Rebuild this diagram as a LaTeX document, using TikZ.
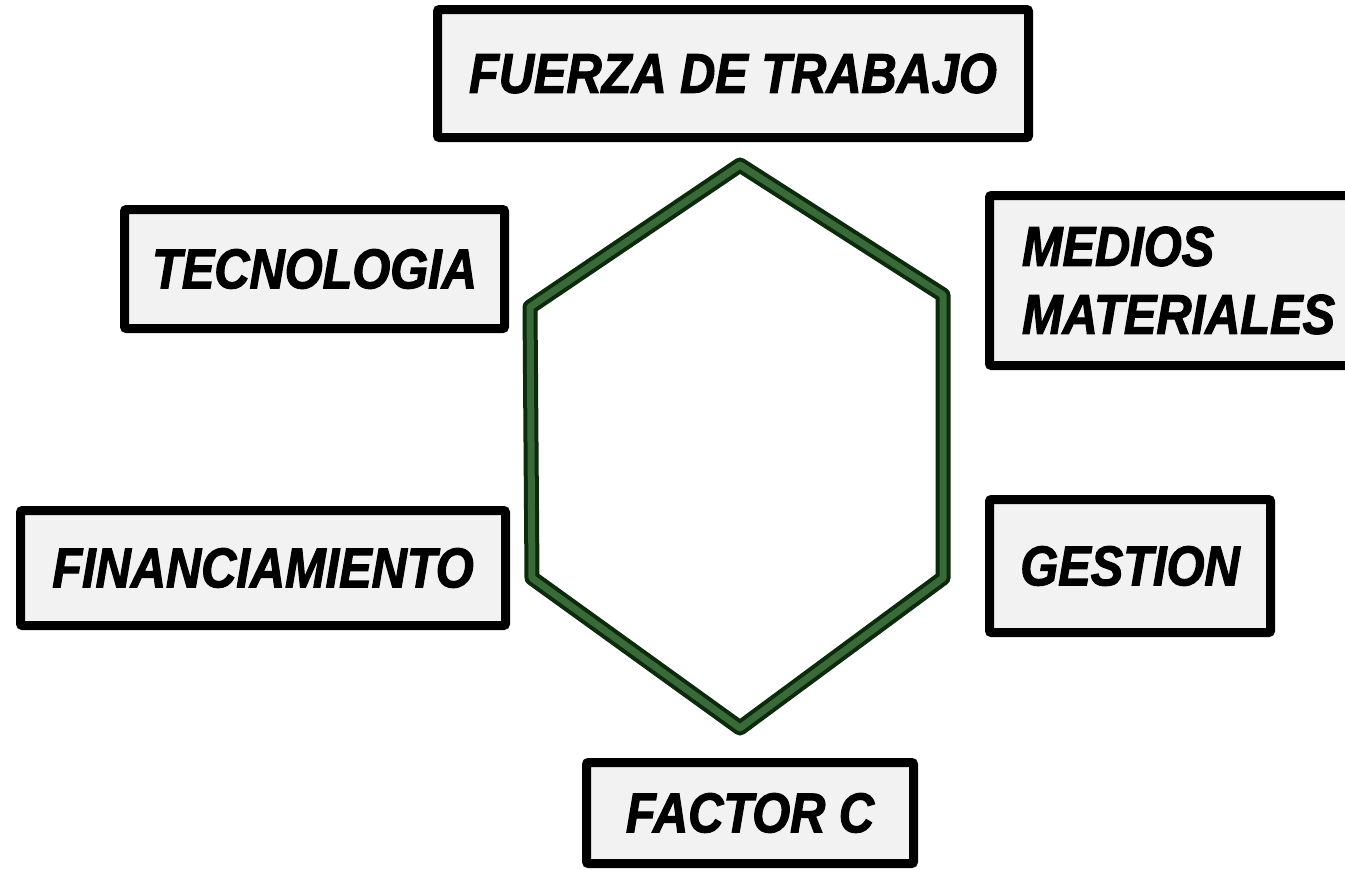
\documentclass[tikz,border=0pt]{standalone}
\usepackage{fontspec}
\newfontfamily\lblfont[FakeStretch=0.87,FakeBold=2]{Liberation Sans}
\definecolor{boxfill}{HTML}{F2F2F2}
\definecolor{hexdark}{HTML}{0C2A0C}
\definecolor{hexlight}{HTML}{3A6A3A}
\begin{document}
\begin{tikzpicture}[x=1pt,y=-1pt,
  box/.style={draw=black, line width=9pt, fill=boxfill, rounded corners=2pt,
    inner sep=0pt, font=\lblfont\bfseries\itshape\fontsize{56}{68}\selectfont},
  hexdk/.style={draw=hexdark, line width=15pt, line join=round},
  hexlt/.style={draw=hexlight, line width=7pt, line join=round},
]
\useasboundingbox (0,0) rectangle (1345,870);
\fill[white] (0,0) rectangle (1345,870);

% hexagon
\coordinate (h1) at (740,165);
\coordinate (h2) at (943,295);
\coordinate (h3) at (943,578);
\coordinate (h4) at (740,728);
\coordinate (h5) at (532,578);
\coordinate (h6) at (530,307);
\draw[hexdk, shift={(1,1)}] (h1) -- (h2) -- (h3) -- (h4) -- (h5) -- (h6) -- cycle;
\draw[hexlt, shift={(-2.5,-2.5)}] (h1) -- (h2) -- (h3) -- (h4) -- (h5) -- (h6) -- cycle;

% boxes
\node[box, minimum width=591pt, minimum height=128pt] (fuerza) at (733,73.5) {FUERZA DE TRABAJO};
\node[box, minimum width=380pt, minimum height=119pt] (tecno) at (314.5,269) {TECNOLOGIA};
\node[box, anchor=west, align=left, text width=340pt, inner xsep=32.5pt, minimum height=170pt] (medios) at (985,280.5) {MEDIOS\\MATERIALES};
\node[box, minimum width=485pt, minimum height=115pt] (finan) at (263,568) {FINANCIAMIENTO};
\node[box, minimum width=281pt, minimum height=133pt] (gestion) at (1130,566) {GESTION};
\node[box, minimum width=327pt, minimum height=101pt] (factor) at (750,813) {FACTOR C};
\end{tikzpicture}
\end{document}
